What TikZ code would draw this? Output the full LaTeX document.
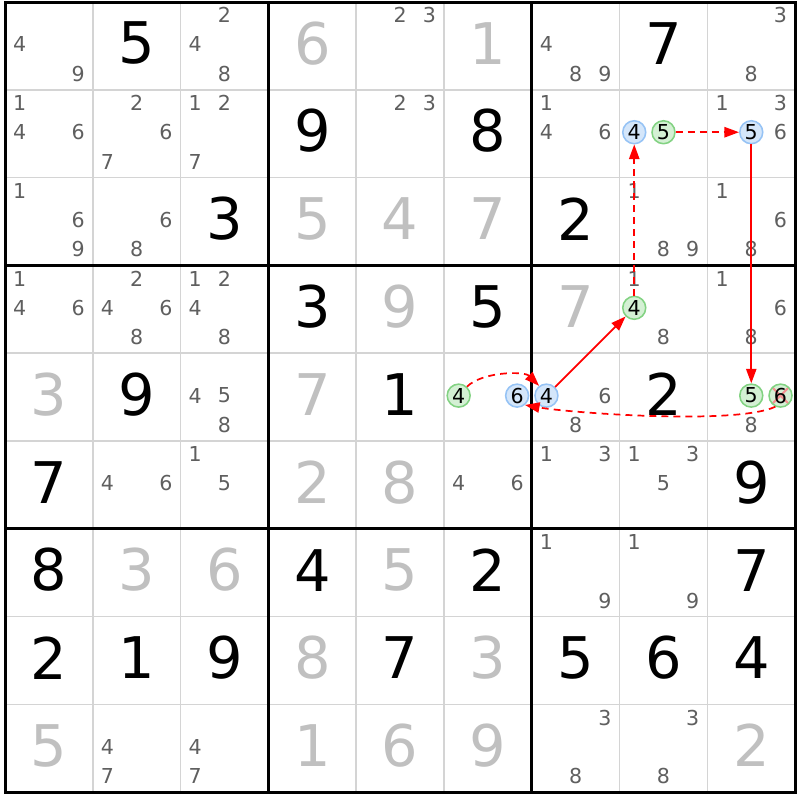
\documentclass[tikz,border=0pt]{standalone}
\usepackage{fontspec}
\setmainfont{DejaVu Sans}
\usetikzlibrary{arrows.meta}
\definecolor{solvedgray}{RGB}{192,192,192}
\definecolor{candgray}{RGB}{95,95,95}
\definecolor{gridgray}{RGB}{212,212,212}
\definecolor{onfill}{RGB}{212,230,250}
\definecolor{ondraw}{RGB}{150,195,245}
\definecolor{offfill}{RGB}{212,240,212}
\definecolor{offdraw}{RGB}{130,210,130}
\definecolor{elimred}{RGB}{242,145,145}
\newcommand{\chaincolor}{red}
\newcommand{\gridthin}{1pt}
\newcommand{\gridthick}{1.75pt}
\newcommand{\bigdigit}{\fontsize{33.5}{40}\selectfont}
\newcommand{\smalldigit}{\fontsize{12}{14}\selectfont}
\tikzset{
  given/.style={font=\bigdigit, text=black, inner sep=0pt},
  solved/.style={font=\bigdigit, text=solvedgray, inner sep=0pt},
  cand/.style={font=\smalldigit, text=candgray, inner sep=0pt},
  candon/.style={circle, font=\smalldigit, text=black, fill=onfill, draw=ondraw, line width=0.9pt, inner sep=0pt, minimum size=13.4pt},
  candoff/.style={circle, font=\smalldigit, text=black, fill=offfill, draw=offdraw, line width=0.9pt, inner sep=0pt, minimum size=13.4pt},
  elim/.style={path picture={\draw[elimred, line width=1.2pt] (path picture bounding box.north west) -- (path picture bounding box.south east) (path picture bounding box.north east) -- (path picture bounding box.south west);}},
  solidlink/.style={draw=\chaincolor, line width=1pt, -{Triangle[length=8.5pt,width=6pt]}},
  dashlink/.style={draw=\chaincolor, line width=1pt, dash pattern=on 4pt off 3pt, -{Triangle[length=8.5pt,width=6pt]}}
}

\begin{document}
\begin{tikzpicture}[x=1.8cm, y=1.8cm]
\fill[white] (-0.057, 0.023) rectangle (9.055, -9.089);
\useasboundingbox (-0.057, 0.023) rectangle (9.055, -9.089);
%grid
\draw[gridgray] [line width = \gridthin] (0, -1) -- (9, -1);
\draw[gridgray] [line width = \gridthin] (0, -2) -- (9, -2);
\draw[gridgray] [line width = \gridthin] (0, -4) -- (9, -4);
\draw[gridgray] [line width = \gridthin] (0, -5) -- (9, -5);
\draw[gridgray] [line width = \gridthin] (0, -7) -- (9, -7);
\draw[gridgray] [line width = \gridthin] (0, -8) -- (9, -8);
\draw[gridgray] [line width = \gridthin] (1, 0) -- (1, -9);
\draw[gridgray] [line width = \gridthin] (2, 0) -- (2, -9);
\draw[gridgray] [line width = \gridthin] (4, 0) -- (4, -9);
\draw[gridgray] [line width = \gridthin] (5, 0) -- (5, -9);
\draw[gridgray] [line width = \gridthin] (7, 0) -- (7, -9);
\draw[gridgray] [line width = \gridthin] (8, 0) -- (8, -9);
\draw[black] [line width = \gridthick] (0, -3) -- (9, -3);
\draw[black] [line width = \gridthick] (0, -6) -- (9, -6);
\draw[black] [line width = \gridthick] (3, 0) -- (3, -9);
\draw[black] [line width = \gridthick] (6, 0) -- (6, -9);
\draw[black] [line width = \gridthick] (0, 0) rectangle (9, -9);
%row 1
\node[cand] (r1c1d4) at (0.167, -0.483) {4};
\node[cand] (r1c1d9) at (0.833, -0.817) {9};
\node[given] (r1c2) at (1.5, -0.47) {5};
\node[cand] (r1c3d2) at (2.5, -0.15) {2};
\node[cand] (r1c3d4) at (2.167, -0.483) {4};
\node[cand] (r1c3d8) at (2.5, -0.817) {8};
\node[solved] (r1c4) at (3.5, -0.47) {6};
\node[cand] (r1c5d2) at (4.5, -0.15) {2};
\node[cand] (r1c5d3) at (4.833, -0.15) {3};
\node[solved] (r1c6) at (5.5, -0.47) {1};
\node[cand] (r1c7d4) at (6.167, -0.483) {4};
\node[cand] (r1c7d8) at (6.5, -0.817) {8};
\node[cand] (r1c7d9) at (6.833, -0.817) {9};
\node[given] (r1c8) at (7.5, -0.47) {7};
\node[cand] (r1c9d3) at (8.833, -0.15) {3};
\node[cand] (r1c9d8) at (8.5, -0.817) {8};
%row 2
\node[cand] (r2c1d1) at (0.167, -1.15) {1};
\node[cand] (r2c1d4) at (0.167, -1.483) {4};
\node[cand] (r2c1d6) at (0.833, -1.483) {6};
\node[cand] (r2c2d2) at (1.5, -1.15) {2};
\node[cand] (r2c2d6) at (1.833, -1.483) {6};
\node[cand] (r2c2d7) at (1.167, -1.817) {7};
\node[cand] (r2c3d1) at (2.167, -1.15) {1};
\node[cand] (r2c3d2) at (2.5, -1.15) {2};
\node[cand] (r2c3d7) at (2.167, -1.817) {7};
\node[given] (r2c4) at (3.5, -1.47) {9};
\node[cand] (r2c5d2) at (4.5, -1.15) {2};
\node[cand] (r2c5d3) at (4.833, -1.15) {3};
\node[given] (r2c6) at (5.5, -1.47) {8};
\node[cand] (r2c7d1) at (6.167, -1.15) {1};
\node[cand] (r2c7d4) at (6.167, -1.483) {4};
\node[cand] (r2c7d6) at (6.833, -1.483) {6};
\node[candon] (r2c8d4) at (7.167, -1.483) {4};
\node[candoff] (r2c8d5) at (7.5, -1.483) {5};
\node[cand] (r2c9d1) at (8.167, -1.15) {1};
\node[cand] (r2c9d3) at (8.833, -1.15) {3};
\node[candon] (r2c9d5) at (8.5, -1.483) {5};
\node[cand] (r2c9d6) at (8.833, -1.483) {6};
%row 3
\node[cand] (r3c1d1) at (0.167, -2.15) {1};
\node[cand] (r3c1d6) at (0.833, -2.483) {6};
\node[cand] (r3c1d9) at (0.833, -2.817) {9};
\node[cand] (r3c2d6) at (1.833, -2.483) {6};
\node[cand] (r3c2d8) at (1.5, -2.817) {8};
\node[given] (r3c3) at (2.5, -2.47) {3};
\node[solved] (r3c4) at (3.5, -2.47) {5};
\node[solved] (r3c5) at (4.5, -2.47) {4};
\node[solved] (r3c6) at (5.5, -2.47) {7};
\node[given] (r3c7) at (6.5, -2.47) {2};
\node[cand] (r3c8d1) at (7.167, -2.15) {1};
\node[cand] (r3c8d8) at (7.5, -2.817) {8};
\node[cand] (r3c8d9) at (7.833, -2.817) {9};
\node[cand] (r3c9d1) at (8.167, -2.15) {1};
\node[cand] (r3c9d6) at (8.833, -2.483) {6};
\node[cand] (r3c9d8) at (8.5, -2.817) {8};
%row 4
\node[cand] (r4c1d1) at (0.167, -3.15) {1};
\node[cand] (r4c1d4) at (0.167, -3.483) {4};
\node[cand] (r4c1d6) at (0.833, -3.483) {6};
\node[cand] (r4c2d2) at (1.5, -3.15) {2};
\node[cand] (r4c2d4) at (1.167, -3.483) {4};
\node[cand] (r4c2d6) at (1.833, -3.483) {6};
\node[cand] (r4c2d8) at (1.5, -3.817) {8};
\node[cand] (r4c3d1) at (2.167, -3.15) {1};
\node[cand] (r4c3d2) at (2.5, -3.15) {2};
\node[cand] (r4c3d4) at (2.167, -3.483) {4};
\node[cand] (r4c3d8) at (2.5, -3.817) {8};
\node[given] (r4c4) at (3.5, -3.47) {3};
\node[solved] (r4c5) at (4.5, -3.47) {9};
\node[given] (r4c6) at (5.5, -3.47) {5};
\node[solved] (r4c7) at (6.5, -3.47) {7};
\node[cand] (r4c8d1) at (7.167, -3.15) {1};
\node[candoff] (r4c8d4) at (7.167, -3.483) {4};
\node[cand] (r4c8d8) at (7.5, -3.817) {8};
\node[cand] (r4c9d1) at (8.167, -3.15) {1};
\node[cand] (r4c9d6) at (8.833, -3.483) {6};
\node[cand] (r4c9d8) at (8.5, -3.817) {8};
%row 5
\node[solved] (r5c1) at (0.5, -4.47) {3};
\node[given] (r5c2) at (1.5, -4.47) {9};
\node[cand] (r5c3d4) at (2.167, -4.483) {4};
\node[cand] (r5c3d5) at (2.5, -4.483) {5};
\node[cand] (r5c3d8) at (2.5, -4.817) {8};
\node[solved] (r5c4) at (3.5, -4.47) {7};
\node[given] (r5c5) at (4.5, -4.47) {1};
\node[candoff] (r5c6d4) at (5.167, -4.483) {4};
\node[candon] (r5c6d6) at (5.833, -4.483) {6};
\node[candon] (r5c7d4) at (6.167, -4.483) {4};
\node[cand] (r5c7d6) at (6.833, -4.483) {6};
\node[cand] (r5c7d8) at (6.5, -4.817) {8};
\node[given] (r5c8) at (7.5, -4.47) {2};
\node[candoff] (r5c9d5) at (8.5, -4.483) {5};
\node[candoff, elim] (r5c9d6) at (8.833, -4.483) {6};
\node[cand] (r5c9d8) at (8.5, -4.817) {8};
%row 6
\node[given] (r6c1) at (0.5, -5.47) {7};
\node[cand] (r6c2d4) at (1.167, -5.483) {4};
\node[cand] (r6c2d6) at (1.833, -5.483) {6};
\node[cand] (r6c3d1) at (2.167, -5.15) {1};
\node[cand] (r6c3d5) at (2.5, -5.483) {5};
\node[solved] (r6c4) at (3.5, -5.47) {2};
\node[solved] (r6c5) at (4.5, -5.47) {8};
\node[cand] (r6c6d4) at (5.167, -5.483) {4};
\node[cand] (r6c6d6) at (5.833, -5.483) {6};
\node[cand] (r6c7d1) at (6.167, -5.15) {1};
\node[cand] (r6c7d3) at (6.833, -5.15) {3};
\node[cand] (r6c8d1) at (7.167, -5.15) {1};
\node[cand] (r6c8d3) at (7.833, -5.15) {3};
\node[cand] (r6c8d5) at (7.5, -5.483) {5};
\node[given] (r6c9) at (8.5, -5.47) {9};
%row 7
\node[given] (r7c1) at (0.5, -6.47) {8};
\node[solved] (r7c2) at (1.5, -6.47) {3};
\node[solved] (r7c3) at (2.5, -6.47) {6};
\node[given] (r7c4) at (3.5, -6.47) {4};
\node[solved] (r7c5) at (4.5, -6.47) {5};
\node[given] (r7c6) at (5.5, -6.47) {2};
\node[cand] (r7c7d1) at (6.167, -6.15) {1};
\node[cand] (r7c7d9) at (6.833, -6.817) {9};
\node[cand] (r7c8d1) at (7.167, -6.15) {1};
\node[cand] (r7c8d9) at (7.833, -6.817) {9};
\node[given] (r7c9) at (8.5, -6.47) {7};
%row 8
\node[given] (r8c1) at (0.5, -7.47) {2};
\node[given] (r8c2) at (1.5, -7.47) {1};
\node[given] (r8c3) at (2.5, -7.47) {9};
\node[solved] (r8c4) at (3.5, -7.47) {8};
\node[given] (r8c5) at (4.5, -7.47) {7};
\node[solved] (r8c6) at (5.5, -7.47) {3};
\node[given] (r8c7) at (6.5, -7.47) {5};
\node[given] (r8c8) at (7.5, -7.47) {6};
\node[given] (r8c9) at (8.5, -7.47) {4};
%row 9
\node[solved] (r9c1) at (0.5, -8.47) {5};
\node[cand] (r9c2d4) at (1.167, -8.483) {4};
\node[cand] (r9c2d7) at (1.167, -8.817) {7};
\node[cand] (r9c3d4) at (2.167, -8.483) {4};
\node[cand] (r9c3d7) at (2.167, -8.817) {7};
\node[solved] (r9c4) at (3.5, -8.47) {1};
\node[solved] (r9c5) at (4.5, -8.47) {6};
\node[solved] (r9c6) at (5.5, -8.47) {9};
\node[cand] (r9c7d3) at (6.833, -8.15) {3};
\node[cand] (r9c7d8) at (6.5, -8.817) {8};
\node[cand] (r9c8d3) at (7.833, -8.15) {3};
\node[cand] (r9c8d8) at (7.5, -8.817) {8};
\node[solved] (r9c9) at (8.5, -8.47) {2};
%chain
\draw[dashlink] (r5c6d4.47) to[out=45, in=135, looseness=0.75] (r5c7d4.127);
\draw[solidlink] (r5c7d4) -- (r4c8d4);
\draw[dashlink] (r4c8d4) -- (r2c8d4);
\draw[dashlink] (r2c8d5) -- (r2c9d5);
\draw[solidlink] (r2c9d5) -- (r5c9d5);
\draw[dashlink] (r5c9d6.245) to[out=205, in=-10, looseness=0.45] (r5c6d6.310);
\end{tikzpicture}
\end{document}
